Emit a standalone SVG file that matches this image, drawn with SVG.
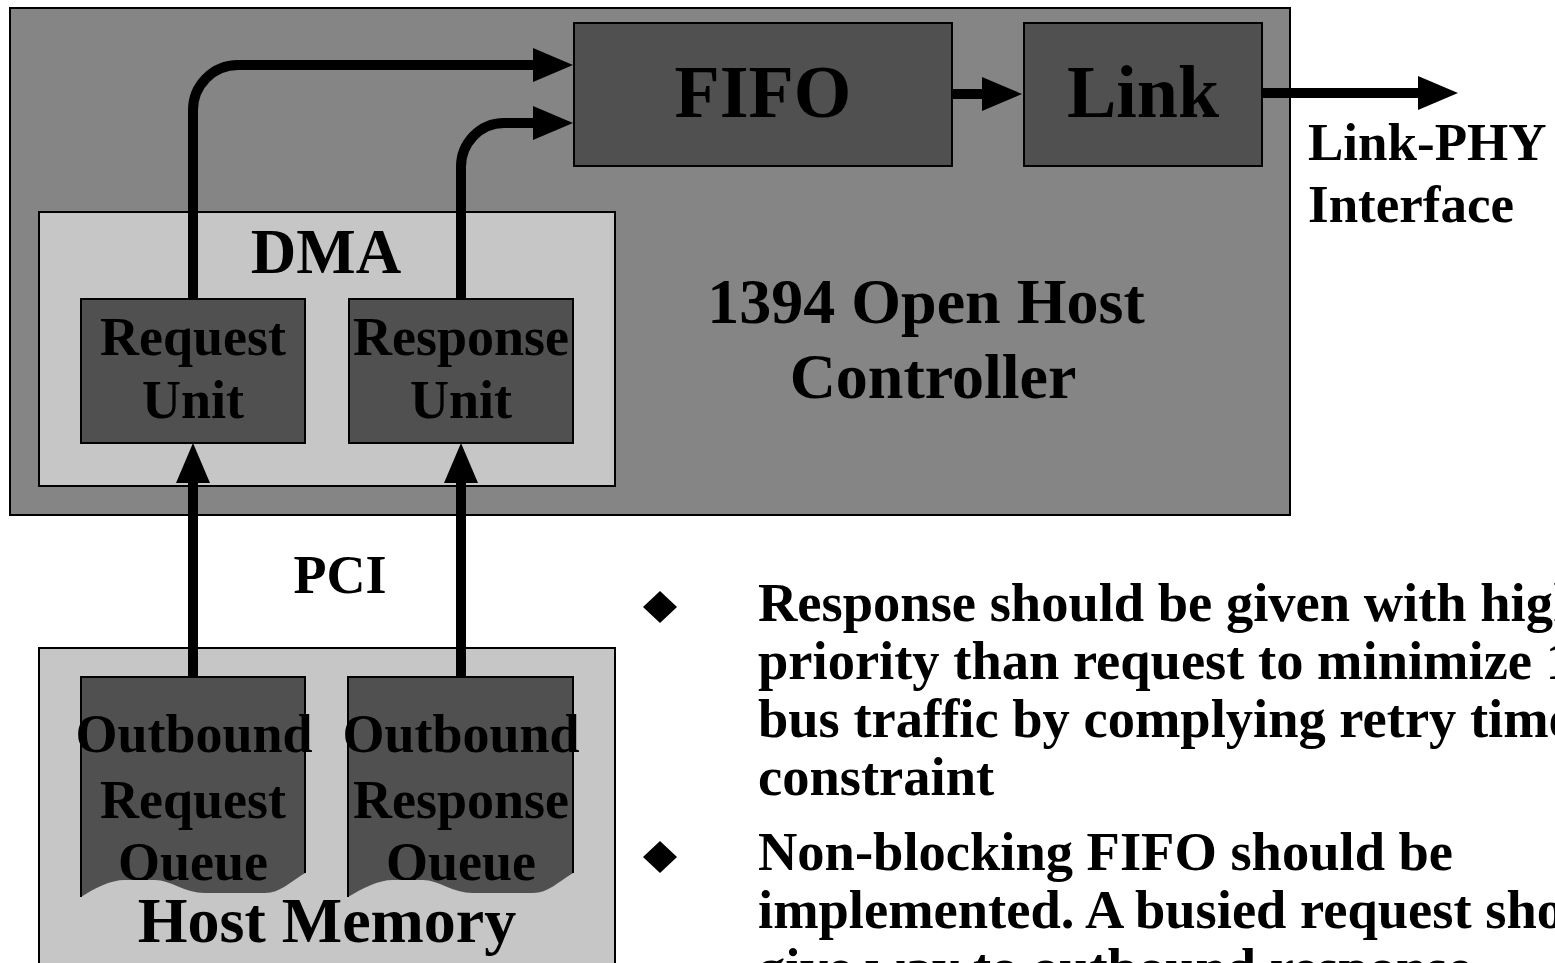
<svg xmlns="http://www.w3.org/2000/svg" width="1555" height="963" viewBox="0 0 1555 963">
<style>
.t{font-family:"Liberation Serif","Times New Roman",serif;font-weight:bold;fill:#000}
.mid{fill:#858585;stroke:#000;stroke-width:2}
.dark{fill:#505050;stroke:#000;stroke-width:2}
.light{fill:#c6c6c6;stroke:#000;stroke-width:2}
.conn{fill:none;stroke:#000;stroke-width:10}
</style>
<defs>
<marker id="ah" markerUnits="userSpaceOnUse" viewBox="0 0 40 34" refX="4" refY="17" markerWidth="40" markerHeight="34" orient="auto">
<path d="M0,0 L40,17 L0,34 Z" fill="#000"/>
</marker>
<clipPath id="q1"><path d="M81,677 H305 V873 C290,882 280,893 265,893 H205 C185,893 170,880 155,880 H125 C110,880 95,888 81,897 Z"/></clipPath>
<clipPath id="q2"><path d="M348,677 H573 V873 C558,882 548,893 533,893 H473 C453,893 438,880 423,880 H393 C378,880 363,888 348,897 Z"/></clipPath>
</defs>
<rect width="1555" height="963" fill="#fff"/>
<g id="ohc">
<rect class="mid" x="10" y="8" width="1280" height="507"/>
<text class="t" x="926" y="323" font-size="64" text-anchor="middle">1394 Open Host</text>
<text class="t" x="933" y="398" font-size="64" text-anchor="middle">Controller</text>
</g>
<g id="fifo">
<rect class="dark" x="574" y="23" width="378" height="143"/>
<text class="t" x="763" y="117" font-size="74" text-anchor="middle">FIFO</text>
</g>
<g id="link">
<rect class="dark" x="1024" y="23" width="238" height="143"/>
<text class="t" x="1143" y="117" font-size="74" text-anchor="middle">Link</text>
</g>
<g id="dma">
<rect class="light" x="39" y="212" width="576" height="274"/>
<text class="t" x="326" y="273" font-size="63" text-anchor="middle">DMA</text>
</g>
<g id="request-unit">
<rect class="dark" x="81" y="299" width="224" height="144"/>
<text class="t" x="193" y="355" font-size="54" text-anchor="middle">Request</text>
<text class="t" x="193" y="418" font-size="54" text-anchor="middle">Unit</text>
</g>
<g id="response-unit">
<rect class="dark" x="349" y="299" width="224" height="144"/>
<text class="t" x="461" y="355" font-size="54" text-anchor="middle">Response</text>
<text class="t" x="461" y="418" font-size="54" text-anchor="middle">Unit</text>
</g>
<g id="host-memory">
<rect class="light" x="39" y="648" width="576" height="330"/>
<text class="t" x="327" y="942" font-size="64" text-anchor="middle">Host Memory</text>
</g>
<g id="out-request-queue">
<path d="M81,677 H305 V873 C290,882 280,893 265,893 H205 C185,893 170,880 155,880 H125 C110,880 95,888 81,897 Z" fill="#505050"/>
<path d="M81,897 V677 H305 V873" fill="none" stroke="#000" stroke-width="2"/>
<text class="t" x="194" y="752" font-size="54" text-anchor="middle">Outbound</text>
<text class="t" x="193" y="818" font-size="54" text-anchor="middle">Request</text>
<text class="t" x="193" y="880" font-size="54" text-anchor="middle" clip-path="url(#q1)">Queue</text>
</g>
<g id="out-response-queue">
<path d="M348,677 H573 V873 C558,882 548,893 533,893 H473 C453,893 438,880 423,880 H393 C378,880 363,888 348,897 Z" fill="#505050"/>
<path d="M348,897 V677 H573 V873" fill="none" stroke="#000" stroke-width="2"/>
<text class="t" x="461" y="752" font-size="54" text-anchor="middle">Outbound</text>
<text class="t" x="461" y="818" font-size="54" text-anchor="middle">Response</text>
<text class="t" x="461" y="880" font-size="54" text-anchor="middle" clip-path="url(#q2)">Queue</text>
</g>
<g id="connectors">
<path class="conn" d="M193,299 V110 A45,45 0 0 1 238,65 H537" marker-end="url(#ah)"/>
<path class="conn" d="M461,299 V168 A43,44 0 0 1 504,123 H537" marker-end="url(#ah)"/>
<path class="conn" d="M952,94 H986" marker-end="url(#ah)"/>
<path class="conn" d="M1262,93 H1422" marker-end="url(#ah)"/>
<path class="conn" d="M193,677 V479" marker-end="url(#ah)"/>
<path class="conn" d="M461,677 V479" marker-end="url(#ah)"/>
</g>
<g id="labels">
<text class="t" x="1308" y="160" font-size="53">Link-PHY</text>
<text class="t" x="1308" y="222" font-size="53">Interface</text>
<text class="t" x="340" y="593" font-size="54" text-anchor="middle">PCI</text>
</g>
<g id="notes">
<polygon points="660,591 677,607 660,623 643,607" fill="#000"/>
<polygon points="660,841 677,857 660,873 643,857" fill="#000"/>
<text class="t" font-size="54.5">
<tspan x="758" y="621">Response should be given with higher</tspan>
<tspan x="758" y="679">priority than request to minimize 1394</tspan>
<tspan x="758" y="737">bus traffic by complying retry time</tspan>
<tspan x="758" y="795">constraint</tspan>
<tspan x="758" y="870">Non-blocking FIFO should be</tspan>
<tspan x="758" y="928">implemented. A busied request should</tspan>
<tspan x="758" y="986">give way to outbound response</tspan>
</text>
</g>
</svg>
